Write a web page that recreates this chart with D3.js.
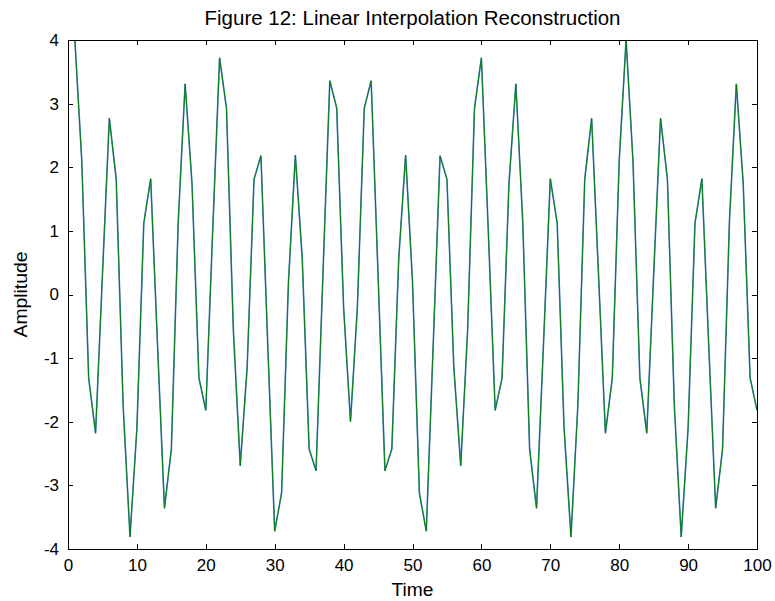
<!DOCTYPE html>
<html>
<head>
<meta charset="utf-8">
<script src="https://cdn.jsdelivr.net/npm/d3@7"></script>
<style>
    body { margin: 0; background: #fff; }
    text { font-family: "Liberation Sans", Arial, Helvetica, sans-serif; fill: #000; }
    .axis path, .axis line { stroke: #000; shape-rendering: crispEdges; }
</style>
</head>
<body>
<svg id="chart"></svg>
<script>
// samples (time 1..100)
var time = d3.range(1, 101);
var amplitude = [
    4.00, 2.10, -1.31, -2.18, 0.31, 2.77, 1.81, -1.74, -3.81, -2.10,
    1.12, 1.82, -0.81, -3.36, -2.43, 1.15, 3.31, 1.74, -1.31, -1.82,
    1.00, 3.72, 2.93, -0.56, -2.69, -1.15, 1.81, 2.18, -0.81, -3.72,
    -3.12, 0.20, 2.19, 0.56, -2.43, -2.77, 0.31, 3.36, 2.93, -0.20,
    -2.00, -0.20, 2.93, 3.36, 0.31, -2.77, -2.43, 0.56, 2.19, 0.20,
    -3.12, -3.72, -0.81, 2.18, 1.81, -1.15, -2.69, -0.56, 2.93, 3.72,
    1.00, -1.82, -1.31, 1.74, 3.31, 1.15, -2.43, -3.36, -0.81, 1.82,
    1.12, -2.10, -3.81, -1.74, 1.81, 2.77, 0.31, -2.18, -1.31, 2.10,
    4.00, 2.10, -1.31, -2.18, 0.31, 2.77, 1.81, -1.74, -3.81, -2.10,
    1.12, 1.82, -0.81, -3.36, -2.43, 1.15, 3.31, 1.74, -1.31, -1.82
];
var xTicks = [0, 10, 20, 30, 40, 50, 60, 70, 80, 90, 100];
var yTicks = [-4, -3, -2, -1, 0, 1, 2, 3, 4];

var width = 775, height = 601;
var margin = { top: 40, right: 18, bottom: 52, left: 68 };
var w = width - margin.left - margin.right;
var h = height - margin.top - margin.bottom;

var svg = d3.select("#chart").attr("width", width).attr("height", height);
var g = svg.append("g").attr("transform", "translate(" + margin.left + "," + margin.top + ")");

var x = d3.scaleLinear().domain([0, 100]).range([0, w]);
var y = d3.scaleLinear().domain([-4, 4]).range([h, 0]);

// clip so the line stays inside the box
g.append("clipPath").attr("id", "clip")
    .append("rect").attr("width", w).attr("height", h);

var points = time.map(function(t, i) { return [t, amplitude[i]]; });
var line = d3.line().x(d => x(d[0])).y(d => y(d[1]));

// original (blue) under the reconstruction (green)
g.append("path").datum(points)
    .attr("clip-path", "url(#clip)")
    .attr("fill", "none").attr("stroke", "#2060c0").attr("stroke-width", 1.6)
    .attr("stroke-opacity", 0.8)
    .attr("d", line);
g.append("path").datum(points)
    .attr("clip-path", "url(#clip)")
    .attr("fill", "none").attr("stroke", "#008000").attr("stroke-width", 0.9)
    .attr("d", line);

// axes, ticks inward like matlab, on all four sides
var tl = 5;
var fmt = d => String(d); // plain hyphen for negatives
g.append("g").attr("class", "axis").attr("transform", "translate(0," + h + ")")
    .call(d3.axisBottom(x).tickValues(xTicks).tickFormat(fmt).tickSizeInner(-tl).tickSizeOuter(0).tickPadding(10))
    .call(a => a.selectAll("text").attr("font-size", 17));
g.append("g").attr("class", "axis")
    .call(d3.axisTop(x).tickValues(xTicks).tickSizeInner(-tl).tickSizeOuter(0).tickFormat(""));
g.append("g").attr("class", "axis")
    .call(d3.axisLeft(y).tickValues(yTicks).tickFormat(fmt).tickSizeInner(-tl).tickSizeOuter(0).tickPadding(9))
    .call(a => a.selectAll("text").attr("font-size", 17));
g.append("g").attr("class", "axis").attr("transform", "translate(" + w + ",0)")
    .call(d3.axisRight(y).tickValues(yTicks).tickSizeInner(-tl).tickSizeOuter(0).tickFormat(""));

g.selectAll(".axis path").attr("stroke-width", 1.2);

// titles
svg.append("text").attr("x", margin.left + w / 2).attr("y", 25)
    .attr("text-anchor", "middle").attr("font-size", 19.5)
    .attr("textLength", 416).attr("lengthAdjust", "spacingAndGlyphs")
    .text("Figure 12: Linear Interpolation Reconstruction");
svg.append("text").attr("x", margin.left + w / 2).attr("y", 596)
    .attr("text-anchor", "middle").attr("font-size", 19)
    .attr("textLength", 42).attr("lengthAdjust", "spacingAndGlyphs")
    .text("Time");
svg.append("text").attr("transform", "translate(27," + (margin.top + h / 2) + ") rotate(-90)")
    .attr("text-anchor", "middle").attr("font-size", 19)
    .attr("textLength", 86).attr("lengthAdjust", "spacingAndGlyphs")
    .text("Amplitude");
</script>
</body>
</html>
